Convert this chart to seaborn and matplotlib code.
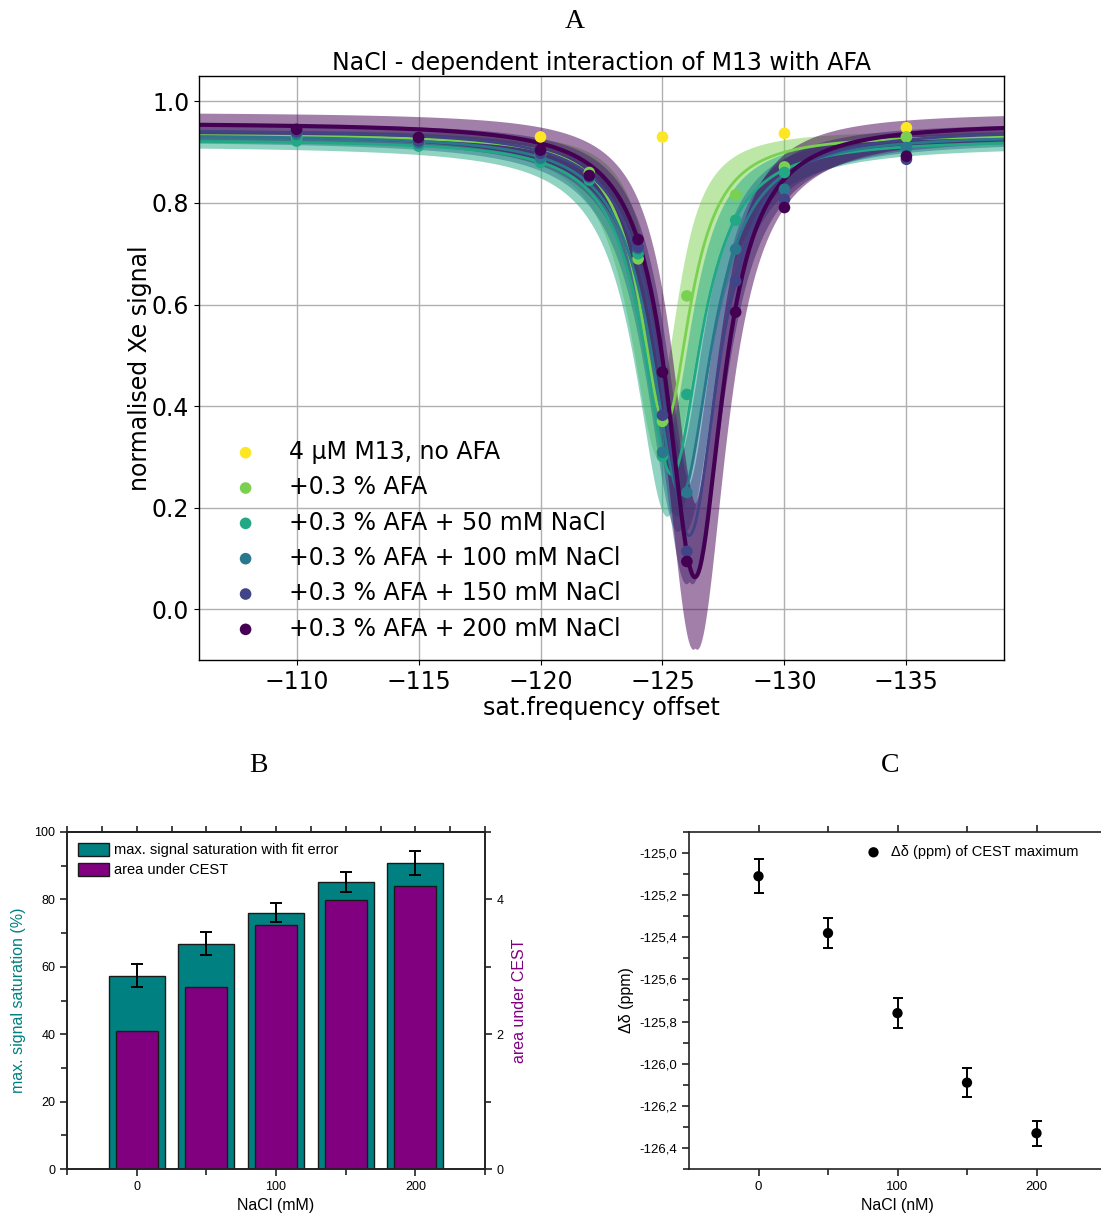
import itertools

import numpy as np
import matplotlib
matplotlib.use("Agg")
import matplotlib.pyplot as plt
from matplotlib.ticker import MultipleLocator, FuncFormatter, FixedLocator, NullFormatter
from matplotlib.patches import Patch
import seaborn as sns

sns.set_style("ticks")
plt.rcParams["font.family"] = ["DejaVu Sans"]
for key in ("text.color", "axes.labelcolor", "xtick.color", "ytick.color", "axes.edgecolor"):
    plt.rcParams[key] = "black"

# ---------------------------------------------------------------- panel A data
sample_labels = [
    "4 µM M13, no AFA",
    "+0.3 % AFA",
    "+0.3 % AFA + 50 mM NaCl",
    "+0.3 % AFA + 100 mM NaCl",
    "+0.3 % AFA + 150 mM NaCl",
    "+0.3 % AFA + 200 mM NaCl",
]
offsets = [-110, -115, -120, -122, -124, -125, -126, -128, -130, -135]
no_afa_offsets = [-120, -125, -130, -135]
no_afa_signal = [0.930, 0.930, 0.937, 0.948]
afa_signal = [0.930, 0.918, 0.895, 0.860, 0.690, 0.370, 0.617, 0.816, 0.871, 0.930]
nacl50_signal = [0.922, 0.912, 0.880, 0.845, 0.700, 0.301, 0.423, 0.766, 0.860, 0.905]
nacl100_signal = [0.935, 0.918, 0.888, 0.850, 0.710, 0.309, 0.230, 0.709, 0.827, 0.909]
nacl150_signal = [0.940, 0.922, 0.898, 0.852, 0.713, 0.382, 0.114, 0.646, 0.807, 0.886]
nacl200_signal = [0.945, 0.929, 0.904, 0.854, 0.728, 0.467, 0.094, 0.585, 0.791, 0.892]

# Lorentzian fit results (AFA, +50, +100, +150, +200 mM NaCl)
fit_baseline = [0.935, 0.925, 0.935, 0.945, 0.958]
fit_depth = [0.57, 0.66, 0.71, 0.80, 0.895]
fit_hwhm = [1.25, 1.45, 1.50, 1.45, 1.38]
fit_baseline_err = [0.010, 0.012, 0.012, 0.015, 0.022]
fit_depth_err = [0.06, 0.07, 0.06, 0.08, 0.12]
fit_hwhm_err = [0.20, 0.15, 0.12, 0.10, 0.08]
fit_center_err = [0.25, 0.20, 0.15, 0.12, 0.08]

# ---------------------------------------------------------- panel B / C data
nacl_mM = [0, 50, 100, 150, 200]
max_saturation = [57.4, 66.9, 76.1, 85.2, 90.9]
max_saturation_err = [3.3, 3.5, 2.75, 2.95, 3.55]
cest_area = [2.05, 2.70, 3.62, 3.985, 4.20]
cest_shift = [-125.11, -125.38, -125.76, -126.09, -126.33]
cest_shift_err = [0.08, 0.07, 0.07, 0.07, 0.06]


def lorentz(x, base, depth, center, hwhm):
    return base - depth * hwhm ** 2 / ((x - center) ** 2 + hwhm ** 2)


W, H = 1101, 1221
fig = plt.figure(figsize=(W / 100, H / 100), dpi=100)


def px_axes(left, top, right, bottom):
    return fig.add_axes([left / W, 1 - bottom / H, (right - left) / W, (bottom - top) / H])


# ====================================================================== panel A
axA = px_axes(199, 76, 1004, 660)
colors = plt.cm.viridis(np.linspace(1, 0, 6))
series = [afa_signal, nacl50_signal, nacl100_signal, nacl150_signal, nacl200_signal]
xs = np.linspace(-106, -139, 800)

for i, sig in enumerate(series):
    col = colors[i + 1]
    params = (fit_baseline[i], fit_depth[i], cest_shift[i], fit_hwhm[i])
    errs = (fit_baseline_err[i], fit_depth_err[i], fit_center_err[i], fit_hwhm_err[i])
    curves = []
    for signs in itertools.product((-1, 1), repeat=4):
        p = [v + s * e for v, s, e in zip(params, signs, errs)]
        curves.append(lorentz(xs, *p))
    curves = np.array(curves)
    axA.fill_between(xs, curves.min(axis=0), curves.max(axis=0),
                     color=col, alpha=0.5, lw=0, zorder=1)
    sns.lineplot(x=xs, y=lorentz(xs, *params), color=col,
                 lw=3 if i == 4 else 2, ax=axA, zorder=2, label="_nolegend_")

point_sets = [(no_afa_offsets, no_afa_signal)] + [(offsets, s) for s in series]
for i, (ox, oy) in enumerate(point_sets):
    sns.scatterplot(x=ox, y=oy, color=colors[i], s=70, edgecolor="none",
                    ax=axA, zorder=3, label=sample_labels[i])

axA.set_xlim(-106, -139)
axA.set_ylim(-0.1, 1.05)
axA.xaxis.set_major_locator(FixedLocator([-110, -115, -120, -125, -130, -135]))
axA.yaxis.set_major_locator(MultipleLocator(0.2))
axA.grid(True, color="#b0b0b0", lw=1)
axA.set_axisbelow(True)
axA.tick_params(labelsize=17, color="black")
for sp in axA.spines.values():
    sp.set_color("black")
    sp.set_linewidth(1)
axA.set_title("NaCl - dependent interaction of M13 with AFA", fontsize=17, pad=4)
axA.set_xlabel("sat.frequency offset", fontsize=17, labelpad=2)
axA.set_ylabel("normalised Xe signal", fontsize=17, labelpad=0)
axA.legend(loc="lower left", bbox_to_anchor=(0.008, 0.005), frameon=False, fontsize=17,
           labelspacing=0.48, handlelength=2, handletextpad=0.85, borderaxespad=0.3)

# ====================================================================== panel B
teal = "#008080"
purple = "#800080"
sans = ["Liberation Sans", "DejaVu Sans"]

axB = px_axes(67, 832, 485, 1169)
sns.barplot(x=nacl_mM, y=max_saturation, native_scale=True, width=0.8,
            color=teal, saturation=1, edgecolor="#1a1a1a", linewidth=1,
            errorbar=None, ax=axB, zorder=1)
axB.errorbar(nacl_mM, max_saturation, yerr=max_saturation_err, fmt="none",
             ecolor="black", elinewidth=1.4, capsize=4, capthick=1.4, zorder=3)
axB2 = axB.twinx()
sns.barplot(x=nacl_mM, y=cest_area, native_scale=True, width=0.6,
            color=purple, saturation=1, edgecolor="#1a1a1a", linewidth=1,
            errorbar=None, ax=axB2)

axB.set_xlim(-50, 250)
axB.set_ylim(0, 100)
axB2.set_ylim(0, 5)
axB.xaxis.set_major_locator(FixedLocator([0, 100, 200]))
axB.xaxis.set_minor_locator(FixedLocator([-50, 50, 150, 250]))
axB.yaxis.set_major_locator(MultipleLocator(20))
axB.yaxis.set_minor_locator(MultipleLocator(10))
axB2.yaxis.set_major_locator(FixedLocator([0, 2, 4]))
axB2.yaxis.set_minor_locator(FixedLocator([1, 3, 5]))
topB = axB.secondary_xaxis("top")
topB.xaxis.set_major_locator(MultipleLocator(25))
topB.xaxis.set_major_formatter(NullFormatter())

for a in (axB, axB2, topB):
    for sp in a.spines.values():
        sp.set_color("#222222")
        sp.set_linewidth(1.2)
    a.tick_params(which="both", direction="out", color="#222222", width=1.2, labelsize=9)
    a.tick_params(which="major", length=5)
    a.tick_params(which="minor", length=4)
    for lab in a.get_xticklabels() + a.get_yticklabels():
        lab.set_family(sans)
topB.tick_params(length=4)

axB.set_xlabel("NaCl (mM)", fontsize=11.5, family=sans, labelpad=4)
axB.set_ylabel("max. signal saturation (%)", fontsize=11.5, family=sans, color=teal, labelpad=6)
axB2.set_ylabel("area under CEST", fontsize=11.5, family=sans, color=purple, labelpad=6)
axB2.legend(handles=[Patch(facecolor=teal, edgecolor="#1a1a1a", label="max. signal saturation with fit error"),
                     Patch(facecolor=purple, edgecolor="#1a1a1a", label="area under CEST")],
            loc="upper left", bbox_to_anchor=(0.0, 1.0), frameon=False,
            prop={"family": sans, "size": 10.5}, handlelength=2.1, handleheight=1.0,
            handletextpad=0.4, labelspacing=0.35, borderaxespad=0.35)

# ====================================================================== panel C
axC = px_axes(689, 832, 1106, 1169)
axC.errorbar(nacl_mM, cest_shift, yerr=cest_shift_err, fmt="none", ecolor="black",
             elinewidth=1.4, capsize=3.5, capthick=1.4, zorder=2)
sns.scatterplot(x=nacl_mM, y=cest_shift, color="black", s=55, edgecolor="none",
                ax=axC, zorder=3, label="Δδ (ppm) of CEST maximum")
axC.set_xlim(-50, 250)
axC.set_ylim(-126.5, -124.9)
axC.xaxis.set_major_locator(FixedLocator([0, 100, 200]))
axC.xaxis.set_minor_locator(FixedLocator([50, 150]))
axC.yaxis.set_major_locator(MultipleLocator(0.2))
axC.yaxis.set_minor_locator(MultipleLocator(0.1))
axC.yaxis.set_major_formatter(FuncFormatter(lambda v, _: f"{v:.1f}".replace(".", ",").replace("−", "-")))
axC.tick_params(which="both", top=True, direction="out", color="#222222", width=1.2, labelsize=9.5)
axC.tick_params(which="major", length=5)
axC.tick_params(which="minor", length=4)
for lab in axC.get_xticklabels() + axC.get_yticklabels():
    lab.set_family(sans)
for sp in axC.spines.values():
    sp.set_color("#222222")
    sp.set_linewidth(1.2)
axC.set_xlabel("NaCl (nM)", fontsize=11.5, family=sans, labelpad=4)
axC.set_ylabel("Δδ (ppm)", fontsize=11.5, family=sans, labelpad=4)
axC.legend(loc="upper left", bbox_to_anchor=(0.39, 1.0), frameon=False,
           prop={"family": sans, "size": 10.5}, handlelength=1.2, handletextpad=0.6,
           borderaxespad=0.5)

# ---------------------------------------------------------------- panel letters
serif = ["Liberation Serif", "DejaVu Serif"]
fig.text(575 / W, 1 - 22 / H, "A", ha="center", va="center", fontsize=20, family=serif)
fig.text(258 / W, 1 - 766 / H, "B", ha="center", va="center", fontsize=20, family=serif)
fig.text(890 / W, 1 - 766 / H, "C", ha="center", va="center", fontsize=20, family=serif)

fig.savefig("out.png", dpi=100)
